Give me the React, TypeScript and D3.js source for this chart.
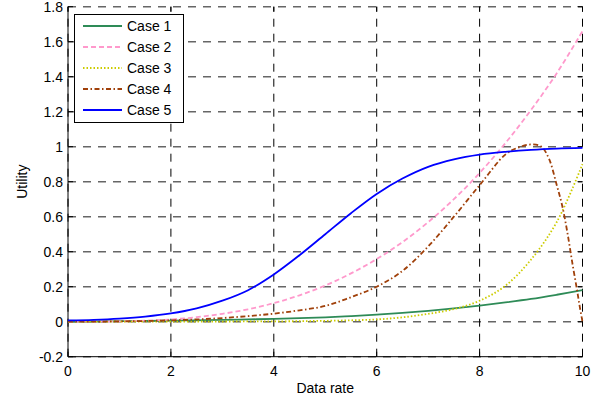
import React from "react";
import * as d3 from "d3";

const xs = [0, 0.5, 1, 1.5, 2, 2.5, 3, 3.5, 4, 4.5, 5, 5.5, 6, 6.5, 7, 7.5, 8, 8.5, 9, 9.5, 10];
const case1 = [0, 0.001, 0.003, 0.004, 0.006, 0.008, 0.01, 0.013, 0.016, 0.02, 0.025, 0.032, 0.04, 0.05, 0.062, 0.076, 0.092, 0.11, 0.13, 0.154, 0.18];
const case2 = [0, 0.0002, 0.002, 0.006, 0.013, 0.026, 0.045, 0.071, 0.106, 0.151, 0.207, 0.276, 0.358, 0.455, 0.569, 0.7, 0.85, 1.02, 1.21, 1.42, 1.66];
const case3 = [0, 0, 0, 0, 0.0005, 0.001, 0.001, 0.002, 0.002, 0.003, 0.005, 0.008, 0.013, 0.025, 0.045, 0.072, 0.12, 0.205, 0.355, 0.57, 0.9];
const case5 = [0.007, 0.011, 0.018, 0.029, 0.047, 0.076, 0.12, 0.18, 0.27, 0.38, 0.5, 0.62, 0.73, 0.818, 0.885, 0.928, 0.955, 0.971, 0.982, 0.989, 0.993];
const xs4 = [0, 0.5, 1, 1.5, 2, 2.5, 3, 3.5, 4, 4.5, 5, 5.5, 6, 6.5, 7, 7.5, 8, 8.5, 8.75, 9, 9.2, 9.35, 9.5, 9.6, 9.7, 9.8, 9.9, 9.95, 10];
const case4 = [0, 0.0005, 0.002, 0.004, 0.008, 0.013, 0.021, 0.032, 0.046, 0.065, 0.09, 0.14, 0.2, 0.29, 0.43, 0.6, 0.78, 0.955, 0.995, 1.013, 1.0, 0.93, 0.78, 0.67, 0.52, 0.34, 0.17, 0.08, 0.0];

const seriesNames = ["Case 1", "Case 2", "Case 3", "Case 4", "Case 5"];
const xTicks = [0, 2, 4, 6, 8, 10];
const yTicks = [-0.2, 0, 0.2, 0.4, 0.6, 0.8, 1, 1.2, 1.4, 1.6, 1.8];

const W = 606, H = 405;
const L = 68, R = 582.5, T = 6.7, B = 356.7;

export default function App() {
  const x = d3.scaleLinear().domain([0, 10]).range([L, R]);
  const y = d3.scaleLinear().domain([-0.2, 1.8]).range([B, T]);
  const line = d3
    .line<[number, number]>()
    .x((d) => x(d[0]))
    .y((d) => y(d[1]))
    .curve(d3.curveCatmullRom.alpha(0.5));

  const series = [
    { name: seriesNames[0], xv: xs, yv: case1, color: "#2E8B57", dash: "none" },
    { name: seriesNames[1], xv: xs, yv: case2, color: "#FF99CC", dash: "5,3" },
    { name: seriesNames[2], xv: xs, yv: case3, color: "#CCCC00", dash: "1.5,2" },
    { name: seriesNames[3], xv: xs4, yv: case4, color: "#A0400A", dash: "5,2.5,1.5,2.5" },
    { name: seriesNames[4], xv: xs, yv: case5, color: "#0000FF", dash: "none" },
  ];

  const font = "'Liberation Sans', Arial, sans-serif";
  const fmt = (v: number) => (Math.abs(v) < 1e-9 ? "0" : String(Math.round(v * 10) / 10));

  return (
    <svg width={W} height={H} style={{ position: "absolute", left: 0, top: 0, background: "#fff" }} fontFamily={font}>
      <rect x={0} y={0} width={W} height={H} fill="#fff" />
      <defs>
        <clipPath id="plot">
          <rect x={L} y={T - 1} width={R - L + 1} height={B - T + 2} />
        </clipPath>
      </defs>
      {yTicks.map((t) => (
        <line key={"gy" + t} x1={L} x2={R} y1={y(t)} y2={y(t)} stroke="#666" strokeWidth={1.4} strokeDasharray="8,7" />
      ))}
      {xTicks.map((t) => (
        <line key={"gx" + t} x1={x(t)} x2={x(t)} y1={B} y2={T} stroke="#000" strokeWidth={1} strokeDasharray="8,7" />
      ))}
      <line x1={L} x2={L} y1={T} y2={B} stroke="#000" strokeWidth={1} />
      <line x1={L} x2={R} y1={B} y2={B} stroke="#000" strokeWidth={1} />
      {yTicks.map((t) => (
        <g key={"ty" + t}>
          <line x1={L} x2={L + 5} y1={y(t)} y2={y(t)} stroke="#000" />
          <line x1={R - 5} x2={R} y1={y(t)} y2={y(t)} stroke="#000" />
          <text x={L - 5} y={y(t)} dy="0.35em" textAnchor="end" fontSize={14} fill="#000">
            {fmt(t)}
          </text>
        </g>
      ))}
      {xTicks.map((t) => (
        <g key={"tx" + t}>
          <line x1={x(t)} x2={x(t)} y1={B} y2={B - 5} stroke="#000" />
          <line x1={x(t)} x2={x(t)} y1={T} y2={T + 5} stroke="#000" />
          <text x={x(t)} y={376} textAnchor="middle" fontSize={14} fill="#000">
            {fmt(t)}
          </text>
        </g>
      ))}
      <text x={(L + R) / 2} y={393} textAnchor="middle" fontSize={14} fill="#000">
        Data rate
      </text>
      <text transform={`translate(27,${(T + B) / 2}) rotate(-90)`} textAnchor="middle" fontSize={14} fill="#000">
        Utility
      </text>
      <g clipPath="url(#plot)">
        {series.map((s) => (
          <path
            key={s.name}
            d={line(s.xv.map((v, i) => [v, s.yv[i]] as [number, number])) || ""}
            fill="none"
            stroke={s.color}
            strokeWidth={1.8}
            strokeDasharray={s.dash}
          />
        ))}
      </g>
      <rect x={74.5} y={14.5} width={109} height={108} fill="#fff" stroke="#000" strokeWidth={1} />
      {series.map((s, i) => {
        const ly = 26 + i * 21;
        return (
          <g key={"lg" + s.name}>
            <line x1={83} x2={122} y1={ly} y2={ly} stroke={s.color} strokeWidth={1.8} strokeDasharray={s.dash} />
            <text x={127} y={ly} dy="0.35em" fontSize={14} fill="#000">
              {s.name}
            </text>
          </g>
        );
      })}
    </svg>
  );
}
